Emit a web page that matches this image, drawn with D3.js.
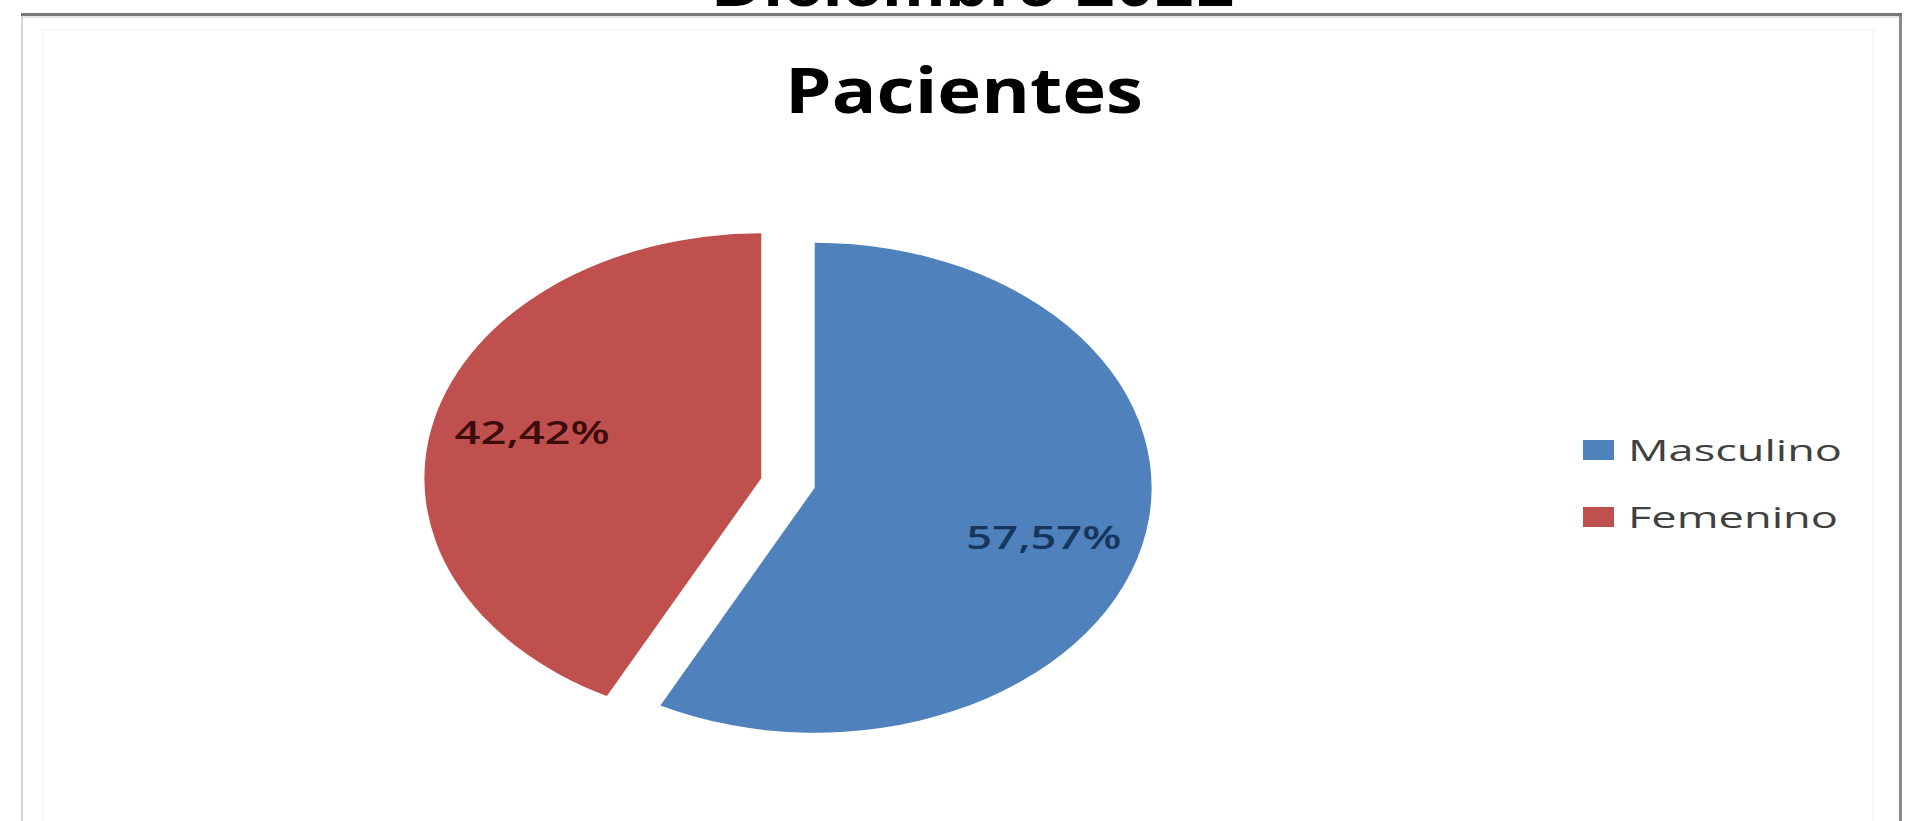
<!DOCTYPE html>
<html>
<head>
<meta charset="utf-8">
<script src="https://cdn.jsdelivr.net/npm/d3@7"></script>
<style>
	body { margin: 0; background: #fff; }
	svg { display: block; }
</style>
</head>
<body>
<svg id="chart" width="1907" height="821"></svg>
<script>
// data
const categories = ["Masculino", "Femenino"];
const values = [57.57, 42.42];
const labels = ["57,57%", "42,42%"];
const colors = ["#4f81bd", "#c0504d"];
const labelColors = ["#17365d", "#3d0b0a"];
const pageTitle = "Diciembre 2021";
const chartTitle = "Pacientes";

const width = 1907;
const height = 821;
const svg = d3.select("#chart");

// the picture is stretched sideways, so the pie is an ellipse
const cx = 788;
const cy = 483;
const radius = 245;
const stretch = 1.375;
const explode = 20;

// outer frame (only top, left and right are in view)
svg.append("rect")
	.attr("x", 43).attr("y", 30)
	.attr("width", 1830).attr("height", 820)
	.attr("fill", "none")
	.attr("stroke", "#f7f7f7")
	.attr("stroke-width", 2);
svg.append("line")
	.attr("x1", 22).attr("x2", 22)
	.attr("y1", 13).attr("y2", height)
	.attr("stroke", "#d4d4d4")
	.attr("stroke-width", 2);
svg.append("line")
	.attr("x1", 1900.5).attr("x2", 1900.5)
	.attr("y1", 13).attr("y2", height)
	.attr("stroke", "#8a8a8a")
	.attr("stroke-width", 3);
svg.append("line")
	.attr("x1", 21).attr("x2", 1902)
	.attr("y1", 14.5).attr("y2", 14.5)
	.attr("stroke", "#7a7a7a")
	.attr("stroke-width", 3);
svg.append("line")
	.attr("x1", 23).attr("x2", 1899)
	.attr("y1", 17).attr("y2", 17)
	.attr("stroke", "#dcdcdc")
	.attr("stroke-width", 1.5);

// heading that is cut off at the top
svg.append("text")
	.attr("x", 973)
	.attr("y", 6)
	.attr("text-anchor", "middle")
	.attr("font-family", "Liberation Sans, Arial, sans-serif")
	.attr("font-weight", "bold")
	.attr("font-size", 66)
	.attr("textLength", 522)
	.attr("lengthAdjust", "spacingAndGlyphs")
	.attr("fill", "#000")
	.text(pageTitle);

svg.append("text")
	.attr("x", 964)
	.attr("y", 113)
	.attr("text-anchor", "middle")
	.attr("font-family", "Open Sans, sans-serif")
	.attr("font-weight", "bold")
	.attr("font-size", 62)
	.attr("textLength", 358)
	.attr("lengthAdjust", "spacingAndGlyphs")
	.attr("fill", "#000")
	.text(chartTitle);

// pie
const pie = d3.pie().sort(null).value((d) => d);
const arcs = pie(values);
const arc = d3.arc().innerRadius(0).outerRadius(radius);
const labelArc = d3.arc().innerRadius(radius * 0.7).outerRadius(radius * 0.7);

function shift(d) {
	const mid = (d.startAngle + d.endAngle) / 2;
	return [Math.sin(mid) * explode, -Math.cos(mid) * explode];
}

const g = svg.append("g")
	.attr("transform", `translate(${cx},${cy}) scale(${stretch},1)`);

g.selectAll("path")
	.data(arcs)
	.enter()
	.append("path")
	.attr("transform", (d) => `translate(${shift(d)})`)
	.attr("d", arc)
	.attr("fill", (d, i) => colors[i]);

svg.selectAll("text.value")
	.data(arcs)
	.enter()
	.append("text")
	.attr("class", "value")
	.attr("x", (d) => cx + stretch * (labelArc.centroid(d)[0] + shift(d)[0]))
	.attr("y", (d) => cy + labelArc.centroid(d)[1] + shift(d)[1])
	.attr("dy", (d, i) => (i === 0 ? "0.65em" : "0.2em"))
	.attr("text-anchor", "middle")
	.attr("font-family", "Open Sans, sans-serif")
	.attr("font-weight", "600")
	.attr("font-size", 32)
	.attr("textLength", 155)
	.attr("lengthAdjust", "spacingAndGlyphs")
	.attr("fill", (d, i) => labelColors[i])
	.text((d, i) => labels[i]);

// legend
const legend = svg.append("g").attr("transform", "translate(1583,440)");
const item = legend.selectAll("g")
	.data(categories)
	.enter()
	.append("g")
	.attr("transform", (d, i) => `translate(0,${i * 67})`);

item.append("rect")
	.attr("width", 31)
	.attr("height", 20)
	.attr("fill", (d, i) => colors[i]);

item.append("text")
	.attr("x", 45)
	.attr("y", 21)
	.attr("font-family", "Open Sans, sans-serif")
	.attr("font-size", 30)
	.attr("textLength", (d, i) => (i === 0 ? 214 : 210))
	.attr("lengthAdjust", "spacingAndGlyphs")
	.attr("fill", "#404040")
	.text((d) => d);
</script>
</body>
</html>
